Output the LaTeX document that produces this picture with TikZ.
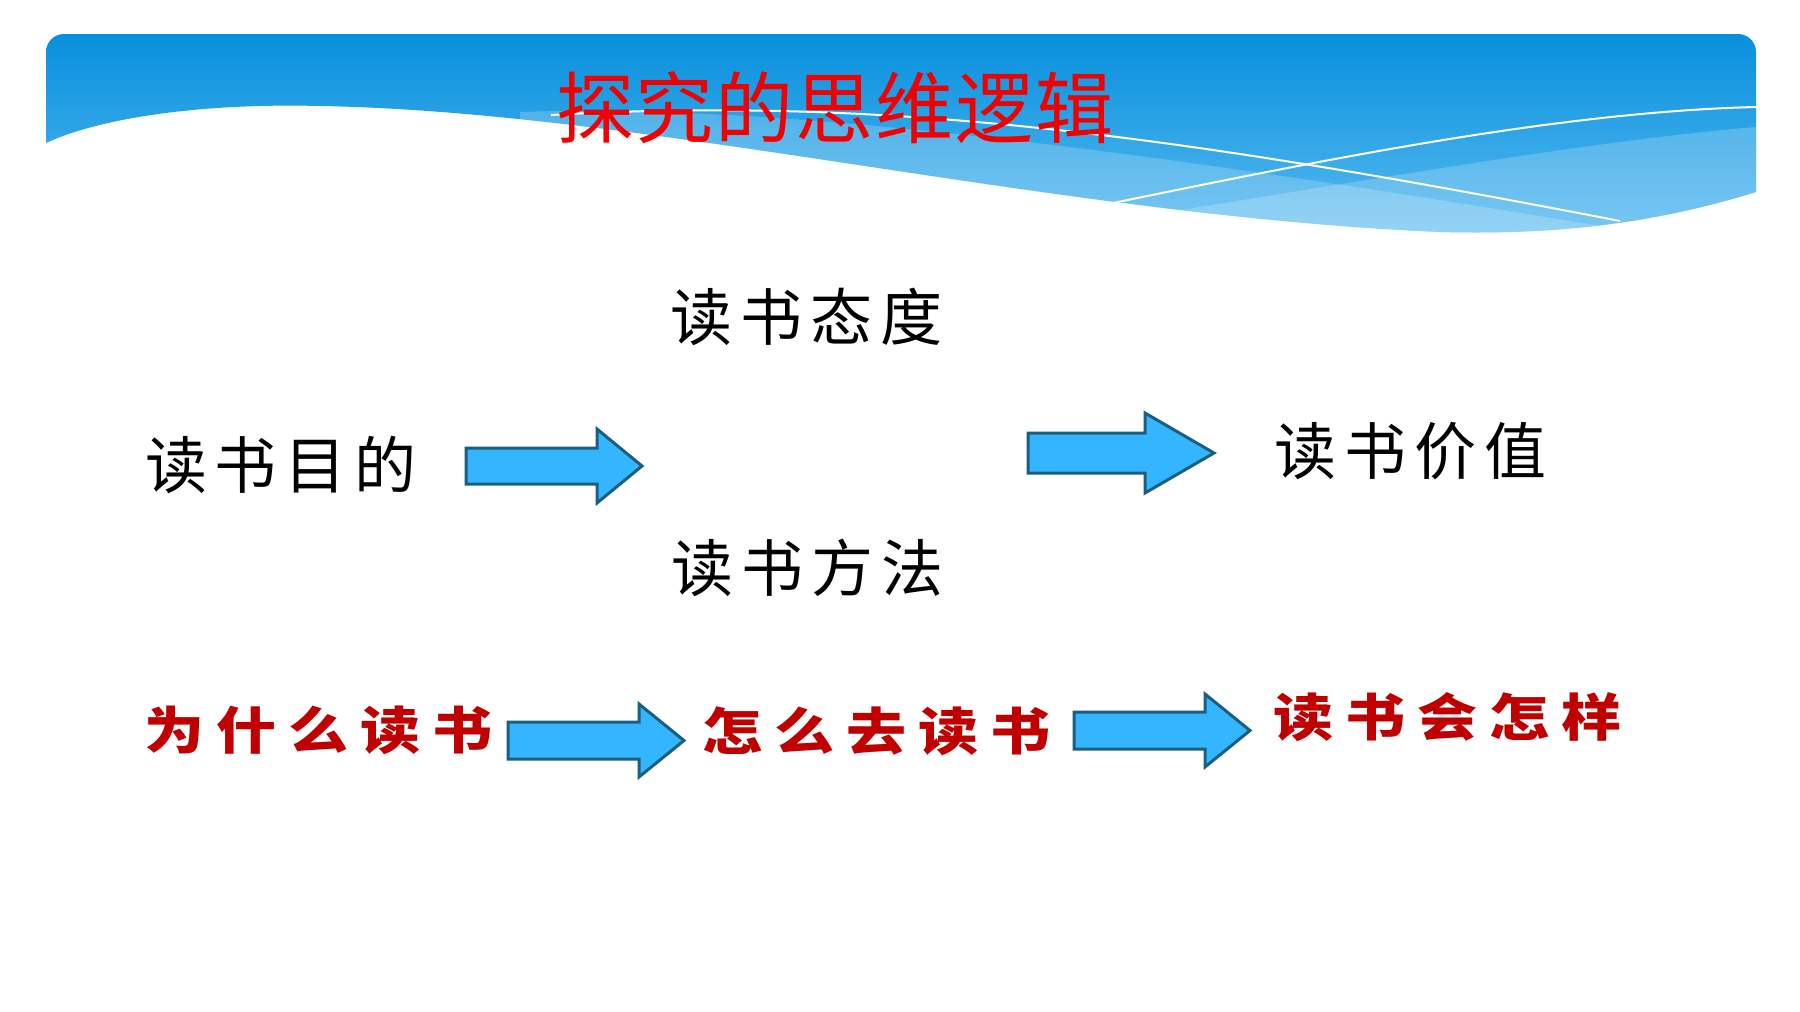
\documentclass[tikz,border=0pt]{standalone}
\usepackage{fontspec}
\usepackage{graphicx}
\newfontfamily\cjk{Noto Sans CJK SC}
\definecolor{bannertop}{RGB}{8,144,221}
\definecolor{bannerbot}{RGB}{88,186,240}
\definecolor{arrowfill}{RGB}{51,182,255}
\definecolor{arrowline}{RGB}{26,94,128}
\definecolor{darkred}{RGB}{192,0,0}
\definecolor{titlered}{RGB}{240,0,0}
\tikzset{
  bodytext/.style={font=\cjk\fontsize{31}{31}\selectfont, text=black, inner sep=0pt},
  redtext/.style={font=\cjk\bfseries\fontsize{30}{30}\selectfont, text=darkred, inner sep=0pt},
  titletext/.style={font=\cjk\fontsize{39}{39}\selectfont, text=titlered, inner sep=0pt},
  arrowbox/.style={fill=arrowfill, draw=arrowline, line width=1.5pt, line join=miter},
  band/.style={fill=white, fill opacity=0.2},
  waveline/.style={draw=white, line width=1pt}
}
% x0 = shaft left, x1 = head base, yc = centre, hs = half shaft, hh = half head, xt = tip
\newcommand\blockarrow[6]{%
  \draw[arrowbox] (#1,#3-#4) -- (#2,#3-#4) -- (#2,#3-#5) -- (#6,#3) -- (#2,#3+#5) -- (#2,#3+#4) -- (#1,#3+#4) -- cycle;}
\begin{document}
\begin{tikzpicture}[x=0.5pt,y=-0.5pt]
\useasboundingbox (0,0) rectangle (1800,1012);
\fill[white] (0,0) rectangle (1800,1012);
% banner
\def\bannerpath{(46,143) -- (46,52) arc[start angle=180,end angle=270,radius=18] -- (1738,34) arc[start angle=270,end angle=360,radius=18] -- (1756,192) .. controls (1650,225) and (1550,235) .. (1440,232) .. controls (1050,215) and (650,112) .. (320,106) .. controls (200,103) and (100,118) .. (46,143) -- cycle}
\shade[top color=bannertop, bottom color=bannerbot] \bannerpath;
\begin{scope}
  \clip \bannerpath;
  \fill[band] (520,112) .. controls (800,102) and (1200,160) .. (1600,226) -- (1600,300) -- (520,300) -- cycle;
  \fill[band] (1150,215) .. controls (1400,175) and (1600,140) .. (1756,127) -- (1800,127) -- (1800,300) -- (1150,300) -- cycle;
  \draw[waveline] (551,115) .. controls (900,95) and (1200,140) .. (1620,221);
  \draw[waveline] (1108,204) .. controls (1300,165) and (1550,112) .. (1756,107);
\end{scope}
% title
\node[titletext] (title) at (835,108) {探\kern1pt究\kern1pt的\kern1pt思\kern1pt维\kern1pt逻\kern1pt辑};
% body labels
\node[bodytext] (mudi) at (281,465) {读\kern4pt书\kern4pt目\kern4pt的};
\node[bodytext] (taidu) at (806,317) {读\kern4pt书\kern4pt态\kern4pt度};
\node[bodytext] (fangfa) at (807,568) {读\kern4pt书\kern4pt方\kern4pt法};
\node[bodytext] (jiazhi) at (1410,451) {读\kern4pt书\kern4pt价\kern4pt值};
% red labels
\node[redtext] (why) at (318,730) {\scalebox{1}[0.85]{为\kern6pt什\kern6pt么\kern6pt读\kern6pt书}};
\node[redtext] (how) at (876,731) {\scalebox{1}[0.85]{怎\kern6pt么\kern6pt去\kern6pt读\kern6pt书}};
\node[redtext] (result) at (1447,717) {\scalebox{1}[0.85]{读\kern6pt书\kern6pt会\kern6pt怎\kern6pt样}};
% block arrows
\blockarrow{466}{597}{466}{18}{37}{642}
\blockarrow{1028}{1145}{453}{20}{40}{1214}
\blockarrow{508}{639}{740.5}{18.5}{36.5}{684}
\blockarrow{1074}{1205}{730.5}{18.5}{36.5}{1250}
\end{tikzpicture}
\end{document}
